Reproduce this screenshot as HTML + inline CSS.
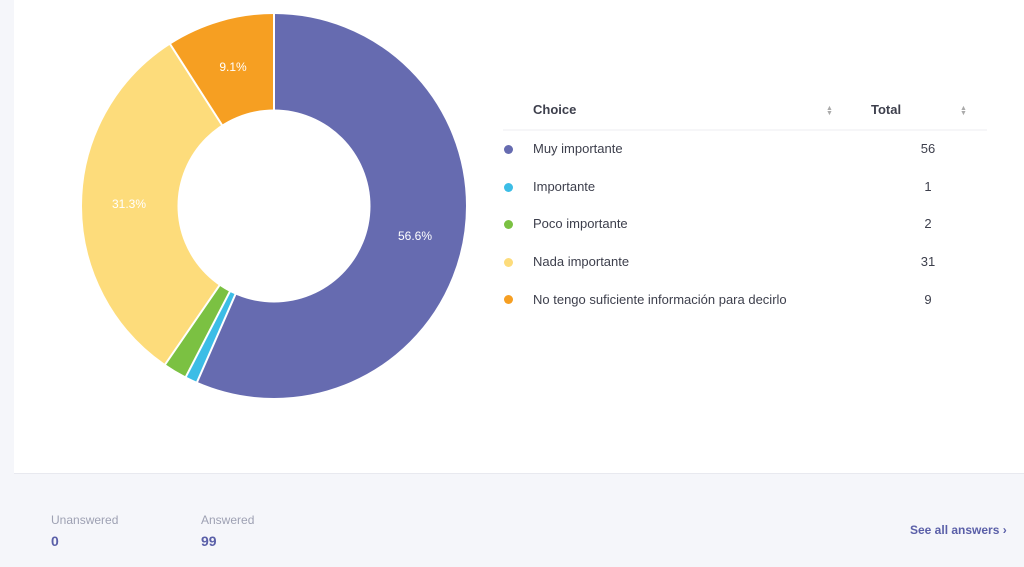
<!DOCTYPE html>
<html><head><meta charset="utf-8"><style>
body{margin:0;width:1024px;height:567px;background:#f5f6fa;font-family:"Liberation Sans",sans-serif;position:relative;overflow:hidden}
.card{position:absolute;left:14px;top:0;width:1010px;height:473px;background:#fff;border-bottom:1px solid #e8e9ef}
.t{position:absolute;color:#3d3f4c;font-size:13px;white-space:nowrap}
.dot{position:absolute;width:9px;height:9px;border-radius:50%;left:504px}
.num{position:absolute;font-size:13px;color:#3d3f4c;width:40px;text-align:center;left:908px}
.arr{position:absolute;font-size:7px;color:#aaa;line-height:5px}
</style></head><body>
<div class="card"></div>
<svg style="position:absolute;left:0;top:0" width="1024" height="473">
<g transform="rotate(-90 274 206)" fill="none" stroke-width="96">
<circle cx="274" cy="206" r="144" stroke="#666bb0" stroke-dasharray="511.8 904.78" stroke-dashoffset="0"/>
<circle cx="274" cy="206" r="144" stroke="#3cbde6" stroke-dasharray="9.14 904.78" stroke-dashoffset="-511.8"/>
<circle cx="274" cy="206" r="144" stroke="#7bc142" stroke-dasharray="18.28 904.78" stroke-dashoffset="-520.94"/>
<circle cx="274" cy="206" r="144" stroke="#fddc7b" stroke-dasharray="283.3 904.78" stroke-dashoffset="-539.22"/>
<circle cx="274" cy="206" r="144" stroke="#f69f22" stroke-dasharray="82.26 904.78" stroke-dashoffset="-822.52"/>
</g>
<g stroke="#fff" stroke-width="2">
<line x1="274" y1="206" x2="274" y2="10"/>
<line x1="274" y1="206" x2="274" y2="10" transform="rotate(203.6 274 206)"/>
<line x1="274" y1="206" x2="274" y2="10" transform="rotate(207.3 274 206)"/>
<line x1="274" y1="206" x2="274" y2="10" transform="rotate(214.5 274 206)"/>
<line x1="274" y1="206" x2="274" y2="10" transform="rotate(327.3 274 206)"/>
</g>
<circle cx="274" cy="206" r="96.5" fill="#fff"/>
<g fill="#fff" font-size="12" font-family="Liberation Sans,sans-serif" text-anchor="middle">
<text x="415" y="240">56.6%</text>
<text x="129" y="208">31.3%</text>
<text x="233" y="71">9.1%</text>
</g>
<line x1="503" y1="130" x2="987" y2="130" stroke="#eceef2"/>
</svg>
<div class="t" style="left:533px;top:102px;font-weight:bold">Choice</div>
<div class="arr" style="left:826px;top:106px">▲<br>▼</div>
<div class="t" style="left:871px;top:102px;font-weight:bold">Total</div>
<div class="arr" style="left:960px;top:106px">▲<br>▼</div>
<div class="dot" style="top:145px;background:#666bb0"></div><div class="t" style="left:533px;top:141px">Muy importante</div><div class="num" style="top:141px">56</div>
<div class="dot" style="top:183px;background:#3cbde6"></div><div class="t" style="left:533px;top:179px">Importante</div><div class="num" style="top:179px">1</div>
<div class="dot" style="top:220px;background:#7bc142"></div><div class="t" style="left:533px;top:216px">Poco importante</div><div class="num" style="top:216px">2</div>
<div class="dot" style="top:258px;background:#fddc7b"></div><div class="t" style="left:533px;top:254px">Nada importante</div><div class="num" style="top:254px">31</div>
<div class="dot" style="top:295px;background:#f69f22"></div><div class="t" style="left:533px;top:292px">No tengo suficiente información para decirlo</div><div class="num" style="top:292px">9</div>
<div class="t" style="left:51px;top:513px;color:#9ea1b3;font-size:12px">Unanswered</div>
<div class="t" style="left:51px;top:533px;color:#5a5fa8;font-size:14px;font-weight:bold">0</div>
<div class="t" style="left:201px;top:513px;color:#9ea1b3;font-size:12px">Answered</div>
<div class="t" style="left:201px;top:533px;color:#5a5fa8;font-size:14px;font-weight:bold">99</div>
<div class="t" style="left:910px;top:523px;color:#5a5fa8;font-size:12px;font-weight:bold">See all answers ›</div>
</body></html>
